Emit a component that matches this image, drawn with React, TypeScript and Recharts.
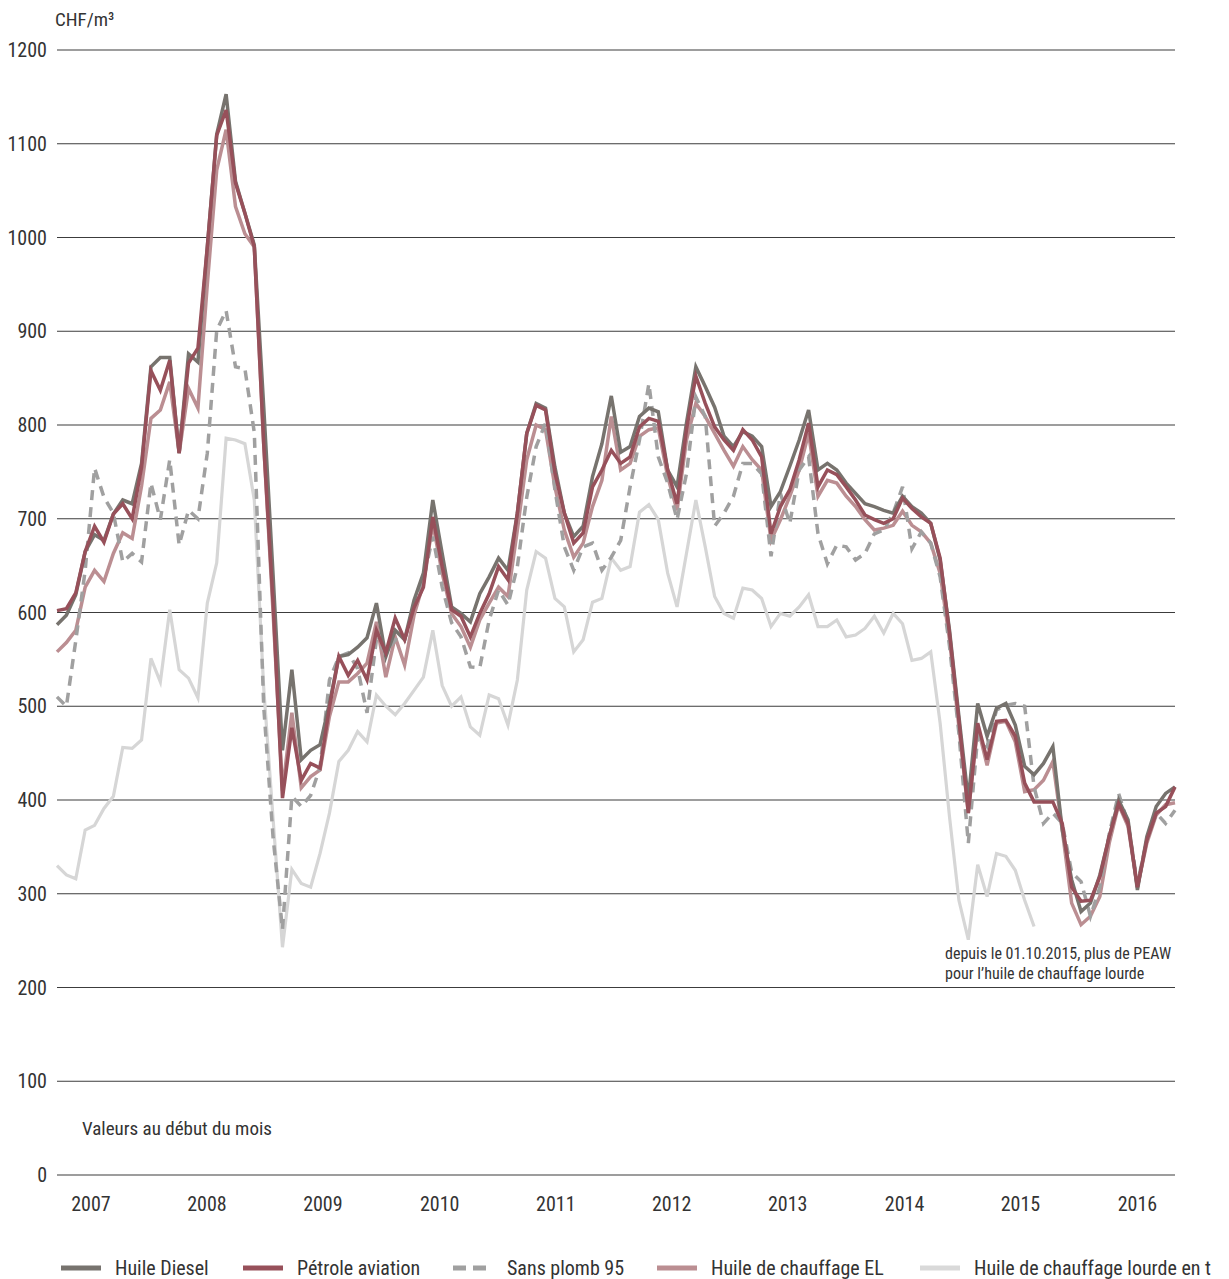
import { LineChart, Line, XAxis, YAxis, CartesianGrid } from "recharts";

const FONT = '"Liberation Sans Narrow", "Roboto Condensed", "DejaVu Sans Condensed", Roboto, sans-serif';

// x = month index (first point spring 2007), year labels sit in the middle of each year
const yearTicks = [3.62, 15.96, 28.3, 40.74, 53.09, 65.43, 77.77, 90.21, 102.55, 115.0];
const yearLabels = ["2007", "2008", "2009", "2010", "2011", "2012", "2013", "2014", "2015", "2016"];
const yTicks = [0, 100, 200, 300, 400, 500, 600, 700, 800, 900, 1000, 1100, 1200];

const diesel = [
  587, 597, 619, 665, 683, 677, 705, 720, 716, 759,
  862, 872, 872, 770, 876, 867, 990, 1110, 1153, 1060,
  1026, 992, 820, 640, 453, 539, 443, 453, 459, 503,
  553, 555, 563, 573, 610, 553, 581, 571, 613, 642,
  720, 663, 606, 599, 590, 620, 638, 658, 645, 706,
  791, 823, 818, 755, 706, 681, 692, 745, 780, 831,
  771, 777, 809, 818, 814, 752, 734, 802, 862, 841,
  819, 788, 777, 793, 788, 777, 713, 729, 756, 784,
  816, 752, 759, 752, 738, 727, 716, 713, 709, 706,
  724, 713, 706, 695, 656, 581, 489, 400, 503, 468,
  498, 503, 480, 436, 427, 439, 457, 368, 315, 281,
  290, 320, 361, 400, 379, 304, 361, 393, 407, 414,
];

const petrole = [
  602, 604, 621, 665, 692, 675, 705, 716, 700, 755,
  858, 837, 869, 770, 866, 882, 990, 1109, 1136, 1058,
  1026, 990, 780, 610, 402, 477, 421, 439, 434, 499,
  553, 533, 549, 528, 581, 557, 594, 571, 605, 627,
  702, 649, 603, 596, 574, 599, 620, 649, 635, 706,
  791, 821, 816, 749, 706, 674, 685, 734, 752, 773,
  759, 766, 798, 807, 804, 752, 716, 795, 852, 823,
  798, 784, 773, 795, 784, 766, 684, 713, 731, 763,
  802, 734, 752, 747, 734, 720, 704, 699, 695, 700,
  722, 711, 702, 695, 658, 578, 485, 386, 482, 443,
  484, 485, 468, 418, 398, 398, 398, 375, 307, 292,
  293, 318, 361, 396, 375, 307, 357, 386, 393, 414,
];

const sansPlomb = [
  510, 500, 570, 645, 754, 723, 706, 654, 663, 654,
  738, 699, 763, 672, 709, 700, 770, 901, 922, 862,
  860, 792, 500, 360, 262, 404, 393, 405, 435, 528,
  553, 557, 540, 493, 571, 557, 571, 571, 605, 635,
  681, 627, 589, 574, 542, 541, 592, 624, 608, 649,
  723, 777, 802, 731, 670, 645, 670, 674, 645, 659,
  677, 734, 784, 844, 766, 738, 699, 748, 830, 809,
  692, 706, 724, 759, 759, 748, 660, 727, 695, 752,
  766, 684, 652, 672, 670, 656, 663, 684, 688, 706,
  734, 668, 686, 674, 638, 564, 471, 354, 468, 457,
  496, 501, 503, 500, 414, 375, 386, 375, 323, 313,
  276, 307, 364, 407, 375, 311, 357, 386, 375, 389,
];

const chauffageEL = [
  558, 568, 581, 627, 645, 633, 663, 685, 679, 735,
  807, 816, 846, 770, 839, 818, 950, 1072, 1115, 1033,
  1004, 990, 780, 600, 410, 493, 413, 425, 432, 489,
  526, 526, 535, 546, 590, 531, 574, 544, 597, 631,
  695, 642, 599, 585, 563, 592, 610, 627, 617, 688,
  763, 800, 795, 734, 688, 659, 674, 713, 741, 809,
  752, 759, 788, 795, 797, 745, 709, 784, 823, 809,
  791, 773, 756, 777, 763, 752, 677, 699, 724, 752,
  791, 724, 741, 738, 724, 713, 699, 688, 690, 693,
  708, 693, 686, 674, 642, 571, 478, 386, 478, 437,
  482, 484, 462, 409, 411, 421, 441, 368, 290, 267,
  276, 297, 354, 395, 372, 307, 354, 384, 395, 397,
];

// heavy fuel oil stops in autumn 2015
const lourde = [
  330, 320, 316, 368, 373, 391, 404, 456, 455, 464,
  551, 526, 603, 539, 530, 509, 610, 653, 786, 784,
  780, 720, 520, 380, 243, 326, 311, 307, 343, 386,
  441, 453, 473, 462, 512, 500, 491, 503, 517, 531,
  581, 522, 500, 510, 478, 469, 512, 508, 480, 528,
  624, 665, 658, 615, 606, 558, 571, 611, 615, 658,
  645, 649, 707, 715, 699, 642, 606, 663, 720, 670,
  617, 599, 594, 626, 624, 615, 585, 599, 596, 606,
  619, 585, 585, 592, 574, 576, 583, 596, 578, 599,
  588, 549, 551, 558, 482, 382, 293, 251, 331, 297,
  343, 340, 325, 293, 265,
];

const data = diesel.map((d, i) => ({
  i,
  diesel: d,
  petrole: petrole[i],
  sansPlomb: sansPlomb[i],
  el: chauffageEL[i],
  lourde: i < lourde.length ? lourde[i] : null,
}));

const legendItems = [
  { label: "Huile Diesel", color: "#77736e", dash: "", left: 61 },
  { label: "Pétrole aviation", color: "#97505a", dash: "", left: 243 },
  { label: "Sans plomb 95", color: "#a0a0a0", dash: "13 7", left: 453 },
  { label: "Huile de chauffage EL", color: "#bb8e92", dash: "", left: 657 },
  { label: "Huile de chauffage lourde en t", color: "#d9d9d9", dash: "", left: 920 },
];

const tickStyle = { fontSize: 20, fill: "#333", fontFamily: FONT };

export default function App() {
  return (
    <div style={{ position: "relative", width: 1229, height: 1279, fontFamily: FONT, color: "#333" }}>
      <style>{"body{margin:0}"}</style>
      <LineChart width={1229} height={1279} data={data} margin={{ top: 50, right: 0, bottom: 0, left: 0 }}>
        <CartesianGrid vertical={false} stroke="#3c3c3c" strokeWidth={1.2} />
        <XAxis
          dataKey="i"
          type="number"
          domain={[0, 119]}
          ticks={yearTicks}
          interval={0}
          tickFormatter={(v) => yearLabels[yearTicks.indexOf(v)]}
          axisLine={false}
          tickLine={false}
          tickMargin={16}
          height={104}
          tick={tickStyle}
        />
        <YAxis
          domain={[0, 1200]}
          ticks={yTicks}
          interval={0}
          axisLine={false}
          tickLine={false}
          tickMargin={4}
          width={57}
          tick={tickStyle}
        />
        <YAxis
          yAxisId="r"
          orientation="right"
          domain={[0, 1200]}
          ticks={yTicks}
          interval={0}
          axisLine={false}
          tickLine={false}
          tickMargin={1}
          width={54}
          tick={{ ...tickStyle, textAnchor: "start" }}
        />
        <Line dataKey="lourde" stroke="#d6d6d6" strokeWidth={3.2} dot={false} isAnimationActive={false} />
        <Line dataKey="el" stroke="#bb8e92" strokeWidth={3.5} dot={false} isAnimationActive={false} />
        <Line dataKey="sansPlomb" stroke="#a0a0a0" strokeWidth={3.5} strokeDasharray="10 7" dot={false} isAnimationActive={false} />
        <Line dataKey="diesel" stroke="#77736e" strokeWidth={3.5} dot={false} isAnimationActive={false} />
        <Line dataKey="petrole" stroke="#97505a" strokeWidth={3.5} dot={false} isAnimationActive={false} />
      </LineChart>

      <div style={{ position: "absolute", left: 55, top: 8, fontSize: 19, lineHeight: "24px" }}>CHF/m³</div>
      <div style={{ position: "absolute", left: 82, top: 1117, fontSize: 19, lineHeight: "24px" }}>
        Valeurs au début du mois
      </div>
      <div style={{ position: "absolute", left: 945, top: 944, fontSize: 16, lineHeight: "20px", whiteSpace: "nowrap" }}>
        depuis le 01.10.2015, plus de PEAW
        <br />
        pour l’huile de chauffage lourde
      </div>

      {legendItems.map((it) => (
        <div
          key={it.label}
          style={{
            position: "absolute",
            left: it.left,
            top: 1256,
            display: "flex",
            alignItems: "center",
            fontSize: 20,
            lineHeight: "24px",
            whiteSpace: "nowrap",
          }}
        >
          <svg width={40} height={6} style={{ marginRight: 14 }}>
            <line x1={0} y1={3} x2={40} y2={3} stroke={it.color} strokeWidth={5} strokeDasharray={it.dash} />
          </svg>
          <span>{it.label}</span>
        </div>
      ))}
    </div>
  );
}
